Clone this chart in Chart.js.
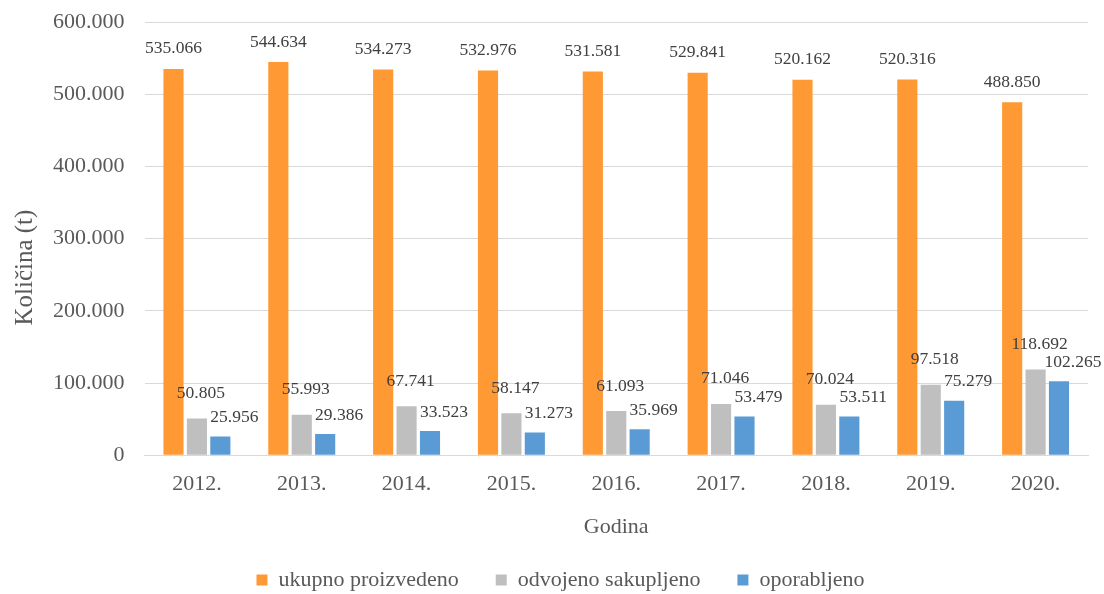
<!DOCTYPE html>
<html>
<head>
<meta charset="utf-8">
<script src="https://cdn.jsdelivr.net/npm/chart.js@4.4.0/dist/chart.umd.min.js"></script>
<style>
  html, body { margin: 0; padding: 0; background: #fff; }
  #wrap { width: 1104px; height: 594px; }
</style>
</head>
<body>
<div id="wrap"><canvas id="chart" width="1104" height="594"></canvas></div>
<script>
const years = ['2012.', '2013.', '2014.', '2015.', '2016.', '2017.', '2018.', '2019.', '2020.'];
const ukupno = [535066, 544634, 534273, 532976, 531581, 529841, 520162, 520316, 488850];
const odvojeno = [50805, 55993, 67741, 58147, 61093, 71046, 70024, 97518, 118692];
const oporabljeno = [25956, 29386, 33523, 31273, 35969, 53479, 53511, 75279, 102265];
const seriesNames = ['ukupno proizvedeno', 'odvojeno sakupljeno', 'oporabljeno'];

const FONT = '"Liberation Serif", "Times New Roman", serif';
const TEXT = '#595959';

function fmt(v) {
    return String(v).replace(/\B(?=(\d{3})+(?!\d))/g, '.');
}

// value label offsets per dataset: [dx, dy above bar top]
const labelOffsets = [[0, 20], [4, 25], [14, 19]];

const valueLabels = {
    id: 'valueLabels',
    afterDatasetsDraw(chart) {
        const ctx = chart.ctx;
        ctx.save();
        ctx.font = '17.5px ' + FONT;
        ctx.fillStyle = '#404040';
        ctx.textAlign = 'center';
        ctx.textBaseline = 'middle';
        chart.data.datasets.forEach((ds, di) => {
            const meta = chart.getDatasetMeta(di);
            meta.data.forEach((bar, i) => {
                const off = labelOffsets[di];
                ctx.fillText(fmt(ds.data[i]), bar.x + off[0], bar.y - off[1]);
            });
        });
        ctx.restore();
    }
};

// y axis title, sits a bit below the middle like in the source
const yTitle = {
    id: 'yTitle',
    afterDraw(chart) {
        const ctx = chart.ctx;
        const area = chart.chartArea;
        ctx.save();
        ctx.translate(25, (area.top + area.bottom) / 2 + 29);
        ctx.rotate(-Math.PI / 2);
        ctx.font = '25px ' + FONT;
        ctx.fillStyle = TEXT;
        ctx.textAlign = 'center';
        ctx.textBaseline = 'middle';
        ctx.fillText('Količina (t)', 0, 0);
        ctx.restore();
    }
};

new Chart(document.getElementById('chart').getContext('2d'), {
    type: 'bar',
    data: {
        labels: years,
        datasets: [
            { label: seriesNames[0] + '      ', data: ukupno, backgroundColor: '#FF9933' },
            { label: seriesNames[1] + '      ', data: odvojeno, backgroundColor: '#BFBFBF' },
            { label: seriesNames[2], data: oporabljeno, backgroundColor: '#5B9BD5' }
        ]
    },
    options: {
        responsive: false,
        animation: false,
        layout: { padding: { top: 22, right: 16, left: 33, bottom: -7 } },
        datasets: {
            bar: { categoryPercentage: 0.67, barPercentage: 0.86 }
        },
        plugins: {
            legend: {
                position: 'bottom',
                labels: {
                    font: { family: FONT, size: 22 },
                    color: TEXT,
                    boxWidth: 11,
                    boxHeight: 11,
                    padding: 4
                }
            },
            tooltip: { enabled: false }
        },
        scales: {
            x: {
                grid: { display: false, drawTicks: false },
                border: { color: '#D9D9D9', width: 1 },
                ticks: { font: { family: FONT, size: 22 }, color: TEXT, padding: 16 },
                title: {
                    display: true,
                    text: 'Godina',
                    font: { family: FONT, size: 22 },
                    color: TEXT,
                    padding: { top: 0, bottom: 25 }
                }
            },
            y: {
                min: 0,
                max: 600000,
                grid: { color: '#D9D9D9', drawTicks: false },
                border: { display: false },
                afterFit: scale => { scale.paddingTop = 0; },
                ticks: {
                    stepSize: 100000,
                    font: { family: FONT, size: 22 },
                    color: TEXT,
                    padding: 20,
                    callback: v => fmt(v)
                }
            }
        }
    },
    plugins: [valueLabels, yTitle]
});
</script>
</body>
</html>
